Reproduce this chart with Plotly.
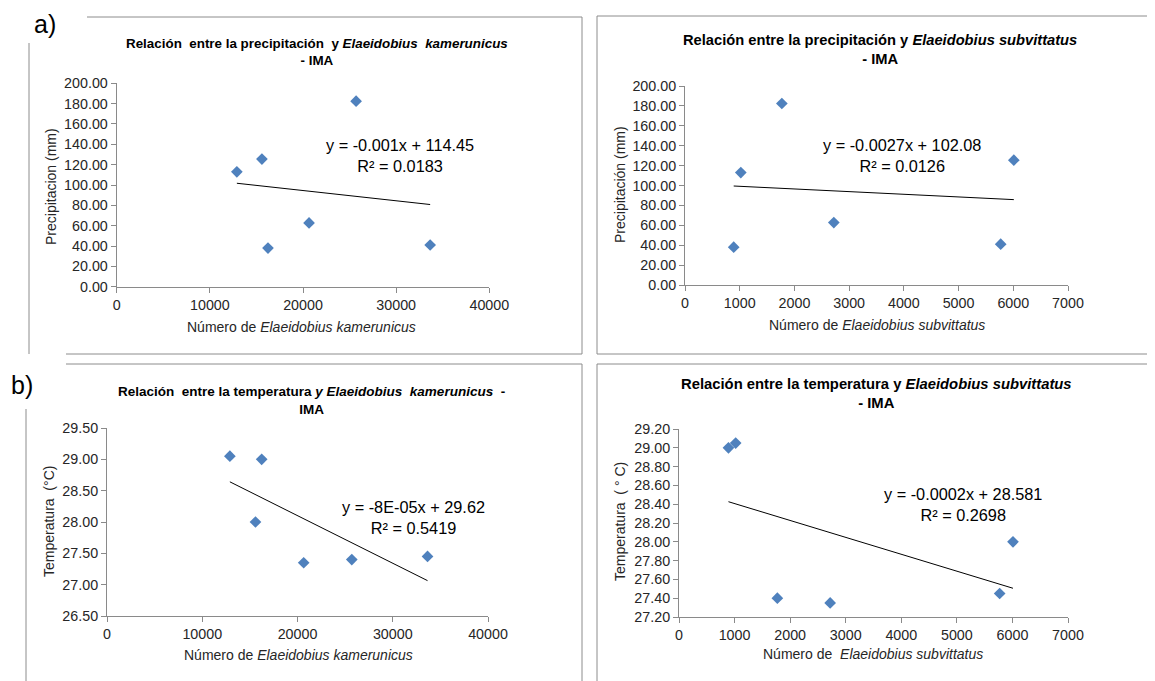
import numpy as np
import plotly.graph_objects as go

W, H = 1155, 681
OFF = 8  # page body margin applied by the browser

# ---------------- data ----------------
kam_count = [12900, 15590, 16240, 20650, 25700, 33650]
kam_precip = [113.0, 125.5, 38.0, 62.7, 182.4, 41.0]
kam_temp = [29.05, 28.00, 29.00, 27.35, 27.40, 27.45]

sub_count = [1020, 6010, 890, 2720, 1770, 5770]
sub_precip = [113.0, 125.5, 38.0, 62.7, 182.4, 41.0]
sub_temp = [29.05, 28.00, 29.00, 27.35, 27.40, 27.45]

eq_labels = [
    "y = -0.001x + 114.45<br>R² = 0.0183",
    "y = -0.0027x + 102.08<br>R² = 0.0126",
    "y = -8E-05x + 29.62<br>R² = 0.5419",
    "y = -0.0002x + 28.581<br>R² = 0.2698",
]
titles = [
    "<b>Relación  entre la precipitación  y <i>Elaeidobius  kamerunicus</i><br>- IMA</b>",
    "<b>Relación entre la precipitación y <i>Elaeidobius subvittatus</i><br>- IMA</b>",
    "<b>Relación  entre la temperatura <i>y Elaeidobius  kamerunicus</i>  -<br>IMA</b>",
    "<b>Relación entre la temperatura y <i>Elaeidobius subvittatus</i><br>- IMA</b>",
]
xtitles = [
    "Número de <i>Elaeidobius kamerunicus</i>",
    "Número de <i>Elaeidobius subvittatus</i>",
    "Número de <i>Elaeidobius kamerunicus</i>",
    "Número de  <i>Elaeidobius subvittatus</i>",
]
ytitles = ["Precipitacion (mm)", "Precipitación (mm)", "Temperatura  (°C)", "Temperatura  ( ° C)"]

FONT = "Liberation Sans, Arial, sans-serif"
MARK = "#4F81BD"
AX = "#8a8a8a"
TXT = "#262626"


def px(x):
    return (x - OFF) / W


def py(y):
    return 1 - (y - OFF) / H


panels = [
    dict(x=kam_count, y=kam_precip, dom=(116.7, 489.3, 83.3, 286.7), xr=[0, 40000], xd=10000,
         yr=[0, 200], yd=20, ttl=(316.5, 52), tfs=13.4, xt=(302, 327), yt=(51, 187), eq=(400, 155.5)),
    dict(x=sub_count, y=sub_precip, dom=(685, 1068, 86, 285), xr=[0, 7000], xd=1000,
         yr=[0, 200], yd=20, ttl=(880, 49), tfs=14.7, xt=(877, 325), yt=(620, 185), eq=(902, 155)),
    dict(x=kam_count, y=kam_temp, dom=(107, 488, 428, 616), xr=[0, 40000], xd=10000,
         yr=[26.5, 29.5], yd=0.5, ttl=(311.5, 400.5), tfs=13.5, xt=(298, 655), yt=(49, 522), eq=(413, 517)),
    dict(x=sub_count, y=sub_temp, dom=(679, 1068, 429, 617), xr=[0, 7000], xd=1000,
         yr=[27.2, 29.2], yd=0.2, ttl=(876.5, 393.5), tfs=14.8, xt=(873, 654), yt=(620, 522), eq=(963, 504.5)),
]

fig = go.Figure()
annotations = []
for i, p in enumerate(panels):
    n = "" if i == 0 else str(i + 1)
    xa, ya = "x" + n, "y" + n
    fig.add_trace(go.Scatter(x=p["x"], y=p["y"], mode="markers", xaxis=xa, yaxis=ya,
                             marker=dict(symbol="diamond", size=9, color=MARK, line=dict(width=0)),
                             showlegend=False, hoverinfo="x+y"))
    xs = np.array(p["x"], dtype=float)
    ys = np.array(p["y"], dtype=float)
    m, b = np.polyfit(xs, ys, 1)
    lx = np.array([xs.min(), xs.max()])
    fig.add_trace(go.Scatter(x=lx, y=m * lx + b, mode="lines", xaxis=xa, yaxis=ya,
                             line=dict(color="#000000", width=1), showlegend=False, hoverinfo="skip"))
    x0, x1, y0, y1 = p["dom"]
    axcommon = dict(showgrid=False, zeroline=False, showline=True, linecolor=AX, linewidth=1,
                    ticks="outside", ticklen=5, tickcolor=AX, tickwidth=1, automargin=False,
                    tickfont=dict(family=FONT, size=14.3, color=TXT))
    fig.update_layout(**{
        "xaxis" + n: dict(domain=[px(x0), px(x1)], range=p["xr"], dtick=p["xd"], tick0=0,
                          tickformat="d", anchor=ya, **axcommon),
        "yaxis" + n: dict(domain=[py(y1), py(y0)], range=p["yr"], dtick=p["yd"], tick0=0,
                          tickformat=".2f", anchor=xa, **axcommon),
    })
    annotations.append(dict(text=titles[i], x=px(p["ttl"][0]), y=py(p["ttl"][1]), xref="paper", yref="paper",
                            showarrow=False, xanchor="center", yanchor="middle",
                            font=dict(family=FONT, size=p["tfs"], color="#000000")))
    annotations.append(dict(text=xtitles[i], x=px(p["xt"][0]), y=py(p["xt"][1]), xref="paper", yref="paper",
                            showarrow=False, xanchor="center", yanchor="middle",
                            font=dict(family=FONT, size=14, color=TXT)))
    annotations.append(dict(text=ytitles[i], x=px(p["yt"][0]), y=py(p["yt"][1]), xref="paper", yref="paper",
                            showarrow=False, xanchor="center", yanchor="middle", textangle=-90,
                            font=dict(family=FONT, size=14, color=TXT)))
    annotations.append(dict(text=eq_labels[i], x=px(p["eq"][0]), y=py(p["eq"][1]), xref="paper", yref="paper",
                            showarrow=False, xanchor="center", yanchor="middle", align="center",
                            font=dict(family=FONT, size=16.3, color="#000000")))

annotations.append(dict(text="a)", x=px(45), y=py(24), xref="paper", yref="paper", showarrow=False,
                        xanchor="center", yanchor="middle", borderpad=0,
                        font=dict(family=FONT, size=25, color="#000000")))
annotations.append(dict(text="b)", x=px(22), y=py(385), xref="paper", yref="paper", showarrow=False,
                        xanchor="center", yanchor="middle", borderpad=0,
                        font=dict(family=FONT, size=25, color="#000000")))

# panel frames (screen pixel coordinates converted to paper)
RE, BE = W + OFF, H + OFF
frame_lines = [
    (87, 17, 582, 17), (582, 17, 582, 354), (66, 354, 582, 354), (29, 43, 29, 354),
    (597, 16, RE, 16), (597, 16, 597, 354), (597, 354, RE, 354),
    (66, 364, 582, 364), (582, 364, 582, BE), (26, 409, 26, BE),
    (597, 364, RE, 364), (597, 364, 597, BE),
]
shapes = [dict(type="line", xref="paper", yref="paper", x0=px(a), y0=py(b), x1=px(c), y1=py(d),
               line=dict(color="#8c8c8c", width=1)) for a, b, c, d in frame_lines]

fig.update_layout(width=W, height=H, margin=dict(l=0, r=0, t=0, b=0, pad=0, autoexpand=False),
                  paper_bgcolor="white", plot_bgcolor="white",
                  annotations=annotations, shapes=shapes, showlegend=False)

fig.write_html("out.html")
